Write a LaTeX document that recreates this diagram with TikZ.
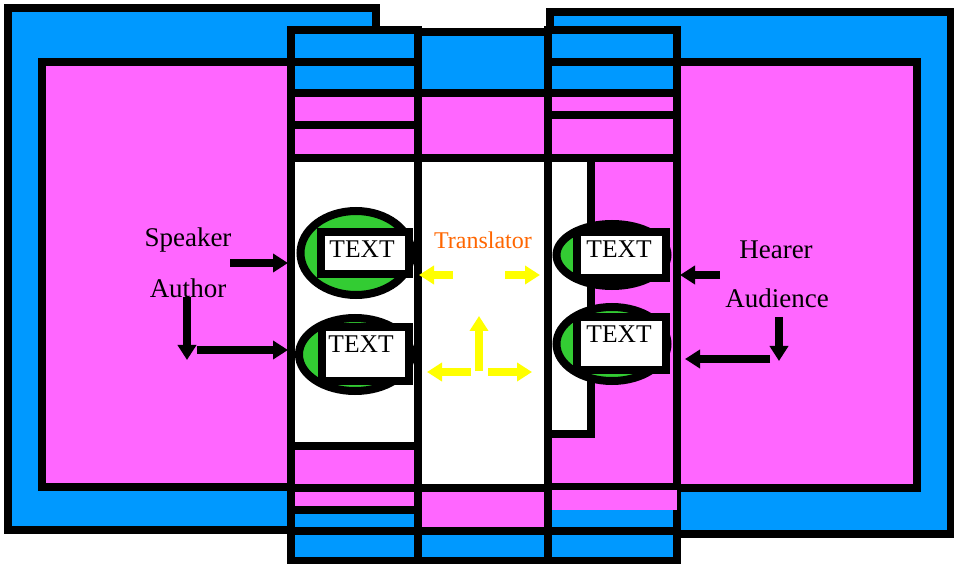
\documentclass[tikz,border=0pt]{standalone}
\usepackage{fontspec}
\setmainfont{Liberation Serif}
\usetikzlibrary{arrows.meta,shapes.geometric}
\definecolor{cblue}{HTML}{0099FF}
\definecolor{cpink}{HTML}{FF66FF}
\definecolor{cgreen}{HTML}{33CC33}
\definecolor{cyel}{HTML}{FFFF00}
\definecolor{corange}{HTML}{FF6600}
\tikzset{
  frame/.style={draw=black, line width=8pt},
  bluebox/.style={frame, fill=cblue},
  pinkbox/.style={frame, fill=cpink},
  whitebox/.style={frame, fill=white},
  oval/.style={ellipse, draw=black, line width=8pt, fill=cgreen, inner sep=0pt},
  textbox/.style={rectangle, draw=black, line width=8pt, fill=white, inner sep=0pt},
  boxtext/.style={inner sep=0pt, font=\fontsize{25.5}{25.5}\selectfont},
  lbl/.style={inner sep=0pt, font=\fontsize{27}{27}\selectfont},
  orangelbl/.style={inner sep=0pt, text=corange, font=\fontsize{24}{24}\selectfont},
  blackarrow/.style={draw=black, line width=8pt, -{Triangle[length=15pt,width=18pt]}},
  yelarrow/.style={draw=cyel, line width=8pt, -{Triangle[length=15pt,width=18pt]}}
}
\begin{document}
\begin{tikzpicture}[x=1pt,y=-1pt,line join=miter]
\useasboundingbox (0,0) rectangle (954,564);
\clip (0,0) rectangle (954,564);
\fill[white] (0,0) rectangle (954,564);

% big outer frames
\path[bluebox] (8,8.5) rectangle (376,530);
\path[bluebox] (550,12) rectangle (951,534);
\path[pinkbox] (42,62) rectangle (300,487);
\path[pinkbox] (670,62) rectangle (917,488);

% left column
\path[bluebox] (291,30) rectangle (418,62);
\path[bluebox] (291,62) rectangle (418,93);
\path[pinkbox] (291,93) rectangle (418,125);
\path[pinkbox] (291,125) rectangle (418,158);
\path[whitebox] (291,158) rectangle (418,446);
\path[pinkbox] (291,446) rectangle (418,488);
\path[pinkbox] (291,488) rectangle (418,510);
\path[bluebox] (291,510) rectangle (418,531);
\path[bluebox] (291,531) rectangle (418,561);

% middle column
\path[bluebox] (418,32) rectangle (548,93);
\path[pinkbox] (418,93) rectangle (548,158);
\path[whitebox] (418,158) rectangle (548,488);
\path[pinkbox] (418,488) rectangle (548,531);
\path[bluebox] (418,531) rectangle (548,561);

% right column
\path[bluebox] (548,30) rectangle (677,62);
\path[bluebox] (548,62) rectangle (677,93);
\path[pinkbox] (548,93) rectangle (677,115);
\path[pinkbox] (548,115) rectangle (677,158);
\path[pinkbox] (548,158) rectangle (677,487);
\path[whitebox] (548,158) rectangle (591,434);
\path[frame, fill=cblue] (548,487) rectangle (677,531);
\fill[cpink] (552,490) rectangle (677,510);
\path[bluebox] (548,531) rectangle (677,561);
\draw[line width=8pt] (548,487) -- (548,531);

% ellipses and text boxes
\node[oval, minimum width=111pt, minimum height=84pt] (e1) at (356,253) {};
\node[oval, minimum width=112pt, minimum height=73pt] (e2) at (355,354.5) {};
\node[oval, minimum width=111pt, minimum height=62pt] (e3) at (612,255) {};
\node[oval, minimum width=111pt, minimum height=74pt] (e4) at (612,344) {};

\node[textbox, minimum width=88pt, minimum height=42pt] (b1) at (365,253) {};
\node[textbox, minimum width=87pt, minimum height=54pt] (b2) at (365.5,354) {};
\node[textbox, minimum width=89pt, minimum height=46pt] (b3) at (621.5,255) {};
\node[textbox, minimum width=89pt, minimum height=53pt] (b4) at (621.5,343.5) {};

\node[boxtext] (t1) at (362,249) {TEXT};
\node[boxtext] (t2) at (361,344) {TEXT};
\node[boxtext] (t3) at (619,249) {TEXT};
\node[boxtext] (t4) at (619,334) {TEXT};

% labels
\node[lbl] (speaker) at (188,240) {Speaker};
\node[lbl] (author) at (188,288) {Author};
\node[lbl] (hearer) at (776,250) {Hearer};
\node[lbl] (audience) at (777,298) {Audience};
\node[orangelbl] (translator) at (483,240) {Translator};

% arrow end points
\coordinate (sp1) at (230,263);  \coordinate (sp2) at (288,263);
\coordinate (au1) at (187,297);  \coordinate (au2) at (187,360);
\coordinate (au3) at (197,350);  \coordinate (au4) at (288,350);
\coordinate (he1) at (720,275);  \coordinate (he2) at (680,275);
\coordinate (ad1) at (779,317);  \coordinate (ad2) at (779,361);
\coordinate (ad3) at (770,359);  \coordinate (ad4) at (685,359);
\coordinate (y1a) at (453,275);  \coordinate (y1b) at (419,275);
\coordinate (y2a) at (505,275);  \coordinate (y2b) at (540,275);
\coordinate (y3a) at (479,371);  \coordinate (y3b) at (479,316);
\coordinate (y4a) at (471,372);  \coordinate (y4b) at (427,372);
\coordinate (y5a) at (488,372);  \coordinate (y5b) at (532,372);

\draw[blackarrow] (sp1) -- (sp2);
\draw[blackarrow] (au1) -- (au2);
\draw[blackarrow] (au3) -- (au4);
\draw[blackarrow] (he1) -- (he2);
\draw[blackarrow] (ad1) -- (ad2);
\draw[blackarrow] (ad3) -- (ad4);
\draw[yelarrow] (y1a) -- (y1b);
\draw[yelarrow] (y2a) -- (y2b);
\draw[yelarrow] (y3a) -- (y3b);
\draw[yelarrow] (y4a) -- (y4b);
\draw[yelarrow] (y5a) -- (y5b);
\end{tikzpicture}
\end{document}
